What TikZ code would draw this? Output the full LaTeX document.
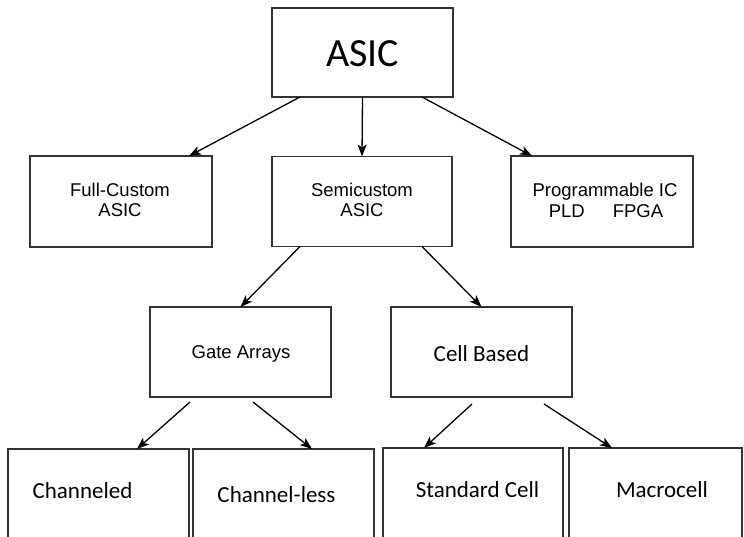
\documentclass[tikz,border=0pt]{standalone}
\usepackage{fontspec}
\setmainfont{Liberation Sans}
\newfontfamily\calfont{Carlito}
\usetikzlibrary{arrows.meta}
\begin{document}
\begin{tikzpicture}[x=1pt,y=-1pt,
  box/.style={draw=black!80, line width=1.2pt, inner sep=0pt, outer sep=0pt, fill=none},
  arr/.style={draw=black, line width=1.3pt, -{Stealth[length=12pt,width=9pt,inset=3pt]}},
  lbl/.style={anchor=base, inner sep=0pt, font=\fontsize{18.5}{20}\selectfont},
  clbl/.style={anchor=base, inner sep=0pt, font=\calfont\fontsize{23}{26}\selectfont}]
\useasboundingbox (0,0) rectangle (744,537);
\clip (0,0) rectangle (744,537);
\fill[white] (0,0) rectangle (744,537);
% boxes
\node[box, minimum width=181pt, minimum height=89pt] (asic) at (362.5,52.5) {};
\node[box, minimum width=182pt, minimum height=91pt] (fc) at (121,201.5) {};
\node[box, minimum width=180pt, minimum height=90pt] (sc) at (362,201.5) {};
\node[box, minimum width=182pt, minimum height=91pt] (pic) at (602,201.5) {};
\node[box, minimum width=181pt, minimum height=90pt] (ga) at (240.5,352) {};
\node[box, minimum width=181pt, minimum height=90pt] (cb) at (481.5,352) {};
\node[box, minimum width=181pt, minimum height=130pt] (ch) at (98.5,514) {};
\node[box, minimum width=181pt, minimum height=130pt] (cl) at (283.5,514) {};
\node[box, minimum width=180pt, minimum height=130pt] (sd) at (473,513) {};
\node[box, minimum width=173pt, minimum height=130pt] (mc) at (655.5,513) {};
% texts
\node[anchor=base, inner sep=0pt, font=\calfont\fontsize{40}{44}\selectfont] (tasic) at (362.5,67) {ASIC};
\node[lbl] (tfc1) at (120,197) {Full-Custom};
\node[lbl] (tfc2) at (120,217) {ASIC};
\node[lbl] (tsc1) at (362,197) {Semicustom};
\node[lbl] (tsc2) at (362,217) {ASIC};
\node[lbl] (tpic1) at (605,197) {Programmable IC};
\node[lbl] (tpic2) at (606,217.5) {PLD\hspace{28pt}FPGA};
\node[lbl] (tga) at (241,358) {Gate Arrays};
\node[clbl] (tcb) at (481.5,361) {Cell Based};
\node[clbl] (tch) at (82.5,498) {Channeled};
\node[clbl] (tcl) at (276.5,502) {Channel-less};
\node[clbl] (tsd) at (477.5,497) {Standard Cell};
\node[clbl] (tmc) at (662,497) {Macrocell};
% arrows
\draw[arr] ([xshift=28pt]asic.south west) -- ([xshift=-23pt]fc.north east);
\draw[arr] (asic.south) -- (sc.north);
\draw[arr] ([xshift=-31pt]asic.south east) -- ([xshift=21pt]pic.north west);
\draw[arr] ([xshift=28pt]sc.south west) -- (ga.north);
\draw[arr] ([xshift=-30pt]sc.south east) -- (cb.north);
\draw[arr] ([xshift=40pt,yshift=-5pt]ga.south west) -- ([xshift=129pt]ch.north west);
\draw[arr] ([xshift=-78pt,yshift=-5pt]ga.south east) -- ([xshift=119pt]cl.north west);
\draw[arr] ([xshift=81pt,yshift=-7pt]cb.south west) -- ([xshift=41pt]sd.north west);
\draw[arr] ([xshift=-28pt,yshift=-7pt]cb.south east) -- ([xshift=43pt]mc.north west);
\end{tikzpicture}
\end{document}
